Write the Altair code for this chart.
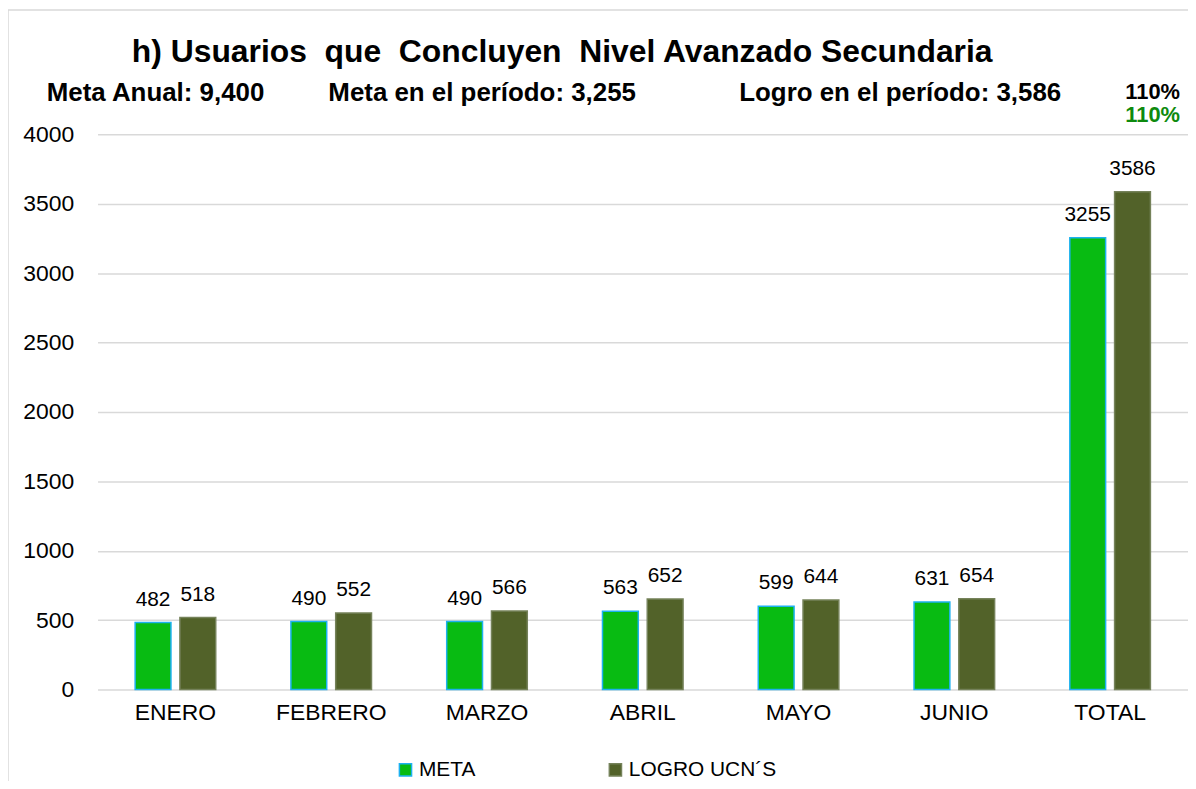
import altair as alt
import pandas as pd

months = ["ENERO", "FEBRERO", "MARZO", "ABRIL", "MAYO", "JUNIO", "TOTAL"]
series = ["META", "LOGRO UCN´S"]
meta = [482, 490, 490, 563, 599, 631, 3255]
logro = [518, 552, 566, 652, 644, 654, 3586]
y_ticks = [0, 500, 1000, 1500, 2000, 2500, 3000, 3500, 4000]

title_text = "h) Usuarios \u00a0que \u00a0Concluyen \u00a0Nivel Avanzado Secundaria"
sub_texts = ["Meta Anual: 9,400", "Meta en el período: 3,255", "Logro en el período: 3,586"]
pct_text = "110%"

rows = []
for m, a, b in zip(months, meta, logro):
    rows.append({"mes": m, "serie": series[0], "valor": a})
    rows.append({"mes": m, "serie": series[1], "valor": b})
df = pd.DataFrame(rows)

FONT = "Liberation Sans"
W, H = 1096, 558
GREEN = "#08BB12"
OLIVE = "#526229"
CYAN = "#1DB1F0"
OLIVE_STROKE = "#75825A"

leg = alt.Legend(
    title=None, orient="none", legendX=299, legendY=628, direction="horizontal",
    columnPadding=130, symbolType="square", symbolSize=150, symbolStrokeWidth=1.5,
    labelFontSize=21, labelFont=FONT, labelColor="black", labelOffset=3,
)

base = alt.Chart(df).encode(
    x=alt.X("mes:N", sort=months, title=None,
            scale=alt.Scale(paddingInner=0.4827, paddingOuter=0.24135),
            axis=alt.Axis(labelAngle=0, labelFontSize=23, labelFont=FONT, labelColor="black",
                          ticks=False, domain=False, grid=False, labelPadding=12)),
    xOffset=alt.XOffset("serie:N", sort=series,
                        scale=alt.Scale(paddingInner=0.2, paddingOuter=0)),
    y=alt.Y("valor:Q", title=None, scale=alt.Scale(domain=[0, 4000]),
            axis=alt.Axis(values=y_ticks, format="d", labelFontSize=23, labelFont=FONT,
                          labelColor="black", ticks=False, domain=False, grid=True,
                          gridColor="#D9D9D9", gridWidth=1.5, labelPadding=24)),
)

bars = base.mark_bar(strokeWidth=1.5).encode(
    color=alt.Color("serie:N", sort=series, scale=alt.Scale(domain=series, range=[GREEN, OLIVE]), legend=leg),
    stroke=alt.Stroke("serie:N", sort=series, scale=alt.Scale(domain=series, range=[CYAN, OLIVE_STROKE]), legend=leg),
)

labels = base.mark_text(baseline="alphabetic", dy=-17, fontSize=21, font=FONT, color="black").encode(
    text=alt.Text("valor:Q", format="d")
)

one = alt.Data(values=[{"k": 1}])

def txt(t, x, y, size, align="left", bold=True, color="black"):
    return alt.Chart(one).mark_text(
        text=t, align=align, baseline="alphabetic", fontSize=size, font=FONT,
        fontWeight="bold" if bold else "normal", color=color,
    ).encode(x=alt.value(x), y=alt.value(y))

border = alt.Chart(one).mark_rect(fillOpacity=0, stroke="#D9D9D9", strokeWidth=1.5).encode(
    x=alt.value(-90), x2=alt.value(1200), y=alt.value(-125), y2=alt.value(700)
)

annots = [
    txt(title_text, 467, -73, 32, align="center"),
    txt(sub_texts[0], -51, -33, 26),
    txt(sub_texts[1], 232, -33, 26),
    txt(sub_texts[2], 645, -33, 26),
    txt(pct_text, 1088, -36, 22, align="right"),
    txt(pct_text, 1088, -12, 22, align="right", color="#0E8A0E"),
]

chart = alt.layer(border, bars, labels, *annots).properties(
    width=W, height=H,
    padding={"left": 90, "top": 125, "right": 0, "bottom": 90},
    autosize="none",
).configure_view(stroke=None)

chart.save("out.html", embed_options={"renderer": "svg", "actions": False})
